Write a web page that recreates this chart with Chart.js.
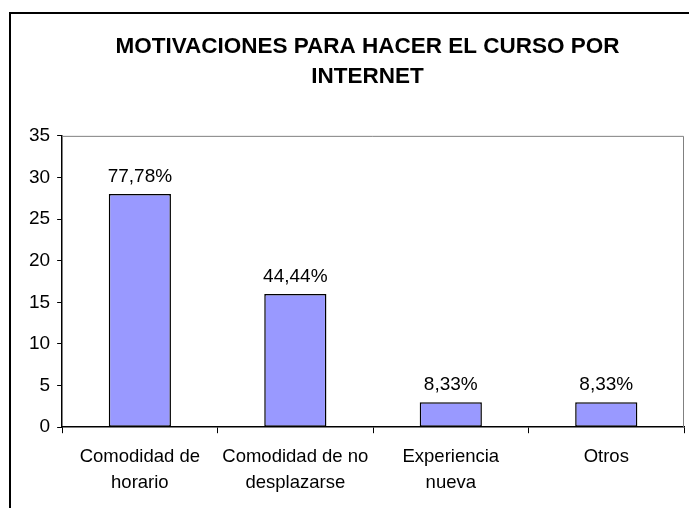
<!DOCTYPE html>
<html>
<head>
<meta charset="utf-8">
<script src="https://cdn.jsdelivr.net/npm/chart.js@4.4.0/dist/chart.umd.min.js"></script>
<style>
  html, body { margin: 0; padding: 0; background: #fff; overflow: hidden; }
  #wrap { width: 689px; height: 508px; overflow: hidden; }
</style>
</head>
<body>
<div id="wrap"><canvas id="myChart" width="713" height="508"></canvas></div>
<script>
// chart data
const categories = [['Comodidad de', 'horario'], ['Comodidad de no', 'desplazarse'], ['Experiencia', 'nueva'], 'Otros'];
const counts = [28, 16, 3, 3];
const percentLabels = ['77,78%', '44,44%', '8,33%', '8,33%'];
const yTicks = [0, 5, 10, 15, 20, 25, 30, 35];

const FONT = '"Liberation Sans", Arial, sans-serif';

// white background + outer frame of the excel chart
const framePlugin = {
  id: 'frame',
  beforeDraw(chart) {
    const ctx = chart.ctx;
    ctx.save();
    ctx.fillStyle = '#fff';
    ctx.fillRect(0, 0, chart.width, chart.height);
    ctx.strokeStyle = '#000';
    ctx.lineWidth = 2;
    ctx.strokeRect(10, 13, 800, 600);
    ctx.restore();
  },
  beforeDatasetsDraw(chart) {
    // gray top and right edge of plot area
    const { left, right, top, bottom } = chart.chartArea;
    const ctx = chart.ctx;
    ctx.save();
    ctx.strokeStyle = '#808080';
    ctx.lineWidth = 1;
    ctx.beginPath();
    ctx.moveTo(left, top + 0.5);
    ctx.lineTo(right - 0.5, top + 0.5);
    ctx.lineTo(right - 0.5, bottom);
    ctx.stroke();
    ctx.restore();
  }
};

// percentages above each bar
const pctPlugin = {
  id: 'pct',
  afterDatasetsDraw(chart) {
    const ctx = chart.ctx;
    const meta = chart.getDatasetMeta(0);
    ctx.save();
    ctx.fillStyle = '#000';
    ctx.font = '19px ' + FONT;
    ctx.textAlign = 'center';
    ctx.textBaseline = 'alphabetic';
    meta.data.forEach((bar, i) => {
      ctx.fillText(percentLabels[i], bar.x, bar.y - 12);
    });
    ctx.restore();
  }
};

new Chart(document.getElementById('myChart').getContext('2d'), {
  type: 'bar',
  data: {
    labels: categories,
    datasets: [{
      data: counts,
      backgroundColor: '#9999FF',
      borderColor: '#000',
      borderWidth: 1.5,
      borderSkipped: false,
      barPercentage: 0.4,
      categoryPercentage: 1.0
    }]
  },
  options: {
    responsive: false,
    animation: false,
    layout: { padding: { left: 22, right: 0, top: 0, bottom: 1 } },
    plugins: {
      legend: { display: false },
      tooltip: { enabled: false },
      title: {
        display: true,
        text: ['MOTIVACIONES PARA HACER EL CURSO POR', 'INTERNET'],
        color: '#000',
        font: { family: FONT, size: 22.5, weight: 'bold', lineHeight: 1.33 },
        padding: { top: 32, bottom: 44 }
      }
    },
    scales: {
      x: {
        grid: { display: true, drawOnChartArea: false, color: '#000', tickLength: 6, offset: true },
        border: { color: '#000', width: 1.5 },
        ticks: {
          color: '#000',
          padding: 11,
          maxRotation: 0,
          autoSkip: false,
          font: { family: FONT, size: 18.5, lineHeight: 1.4 }
        }
      },
      y: {
        min: 0,
        max: 35,
        afterBuildTicks(scale) {
          scale.ticks = yTicks.map(v => ({ value: v }));
        },
        grid: { display: true, drawOnChartArea: false, color: '#000', tickLength: 5 },
        border: { color: '#000', width: 1.5 },
        ticks: {
          color: '#000',
          padding: 7,
          font: { family: FONT, size: 19 }
        }
      },
      // empty space on the right, the original chart box is wider than the picture
      yRight: {
        position: 'right',
        min: 0,
        max: 35,
        grid: { display: false },
        border: { display: false },
        ticks: { display: false },
        afterFit(scale) {
          scale.width = 29;
        }
      }
    }
  },
  plugins: [framePlugin, pctPlugin]
});
</script>
</body>
</html>
